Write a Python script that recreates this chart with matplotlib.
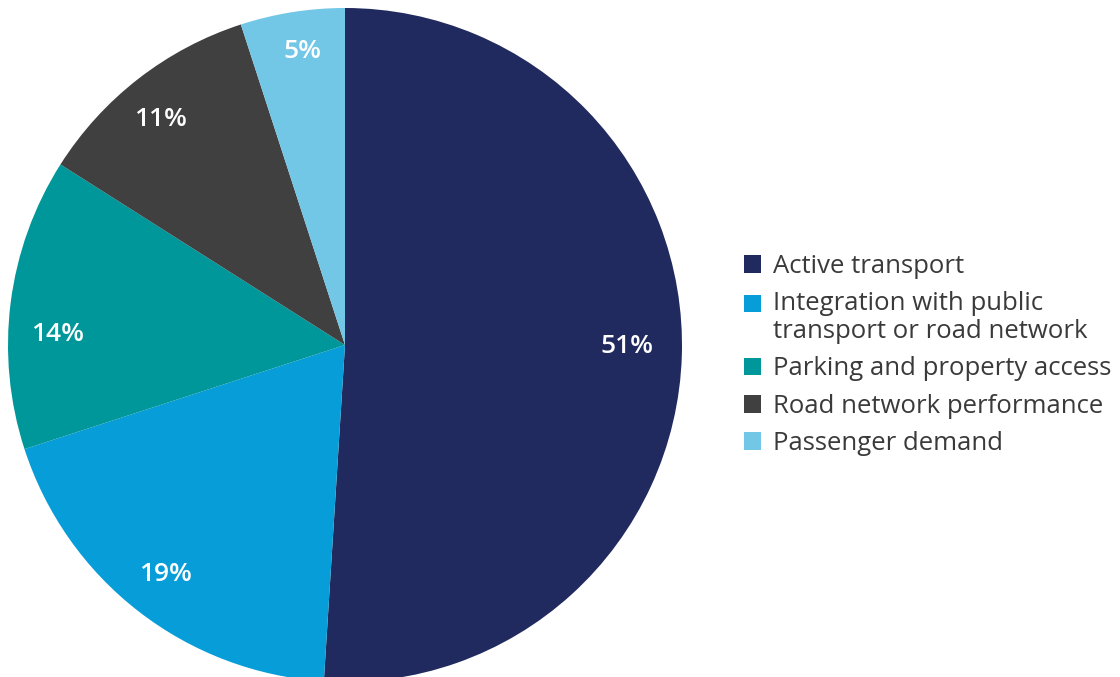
import matplotlib
matplotlib.use("Agg")
import matplotlib.pyplot as plt

labels = ["Active transport",
          "Integration with public\ntransport or road network",
          "Parking and property access",
          "Road network performance",
          "Passenger demand"]
values = [51, 19, 14, 11, 5]
colors = ["#202A5E", "#069DD8", "#00979A", "#404040", "#72C6E6"]
# small nudges for the percentage labels (pixels, x right / y up)
label_nudge = [(-8, 8), (-2, 0), (0, -26), (-7, -4), (3, 7)]

plt.rcParams['font.family'] = ['Open Sans', 'DejaVu Sans']

W, H = 1120, 677
fig = plt.figure(figsize=(W / 100, H / 100), dpi=100)
ax = fig.add_axes([0, 0, 1, 1])

cx, cy, rad = 345, H - 345, 337
wedges, texts, autotexts = ax.pie(values, colors=colors, startangle=90, counterclock=False,
                                  center=(cx, cy), radius=rad,
                                  autopct=lambda p: "%d%%" % round(p), pctdistance=0.86,
                                  textprops=dict(color="white", fontsize=19, fontweight="semibold"))
for t, (dx, dy) in zip(autotexts, label_nudge):
    x, y = t.get_position()
    t.set_position((x + dx, y + dy))

ax.set_xlim(0, W)
ax.set_ylim(0, H)
ax.set_aspect("equal")
ax.axis("off")

leg = fig.legend(wedges, labels, loc="center left", bbox_to_anchor=(744 / W, 1 - 355 / H),
                 frameon=False, fontsize=18.5, handlelength=0.68, handleheight=0.68,
                 handletextpad=0.45, labelspacing=0.48, borderaxespad=0, borderpad=0)
for t in leg.get_texts():
    t.set_color("#3a3a3a")
    t.set_linespacing(1.15)
# keep the square of the two-line entry level with its first line
h = leg.legend_handles[1]
h.set_y(h.get_y() + 10.5)

fig.savefig("out.png", dpi=100)
